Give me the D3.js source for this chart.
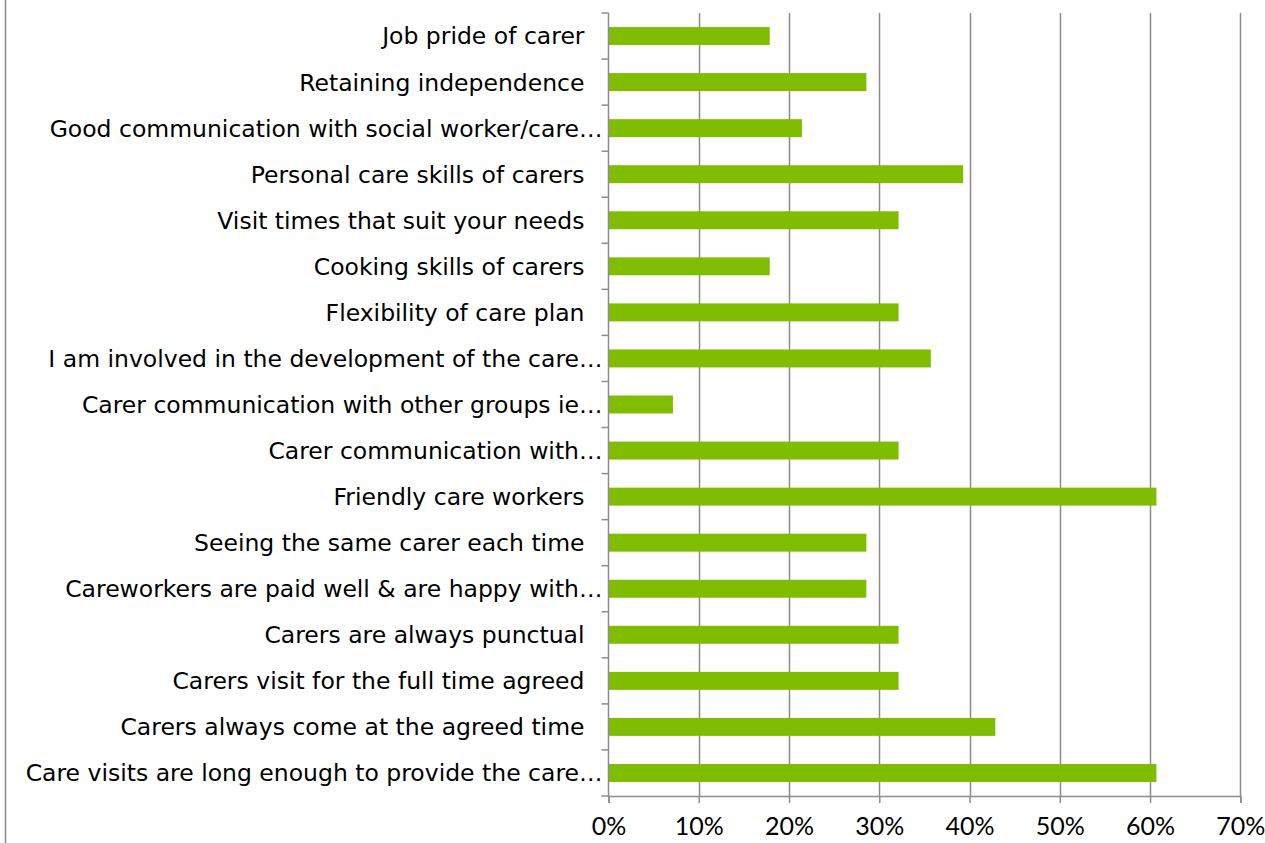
<!DOCTYPE html>
<html>
<head>
<meta charset="utf-8">
<script src="https://cdn.jsdelivr.net/npm/d3@7"></script>
<style>
  html, body { margin: 0; padding: 0; background: #fff; }
  svg { display: block; }
</style>
</head>
<body>
<svg id="chart" width="1265" height="843"></svg>
<script>
// Survey categories, top to bottom
const categories = [
  "Job pride of carer",
  "Retaining independence",
  "Good communication with social worker/care…",
  "Personal care skills of carers",
  "Visit times that suit your needs",
  "Cooking skills of carers",
  "Flexibility of care plan",
  "I am involved in the development of the care…",
  "Carer communication with other groups ie…",
  "Carer communication with…",
  "Friendly care workers",
  "Seeing the same carer each time",
  "Careworkers are paid well & are happy with…",
  "Carers are always punctual",
  "Carers visit for the full time agreed",
  "Carers always come at the agreed time",
  "Care visits are long enough to provide the care…"
];

// Share of respondents (fraction)
const shares = [
  0.1786, 0.2857, 0.2143, 0.3929, 0.3214, 0.1786, 0.3214, 0.3571, 0.0714,
  0.3214, 0.6071, 0.2857, 0.2857, 0.3214, 0.3214, 0.4286, 0.6071
];

const tickValues = [0, 0.1, 0.2, 0.3, 0.4, 0.5, 0.6, 0.7];

const svg = d3.select("#chart");
const plotLeft = 608.5, plotRight = 1240.3, plotTop = 13, plotBottom = 796;

const x = d3.scaleLinear().domain([0, 0.7]).range([plotLeft, plotRight]);
const y = d3.scaleBand().domain(categories).range([plotTop, plotBottom]).paddingInner(0.61).paddingOuter(0.305);
const yOuter = d3.scaleBand().domain(categories).range([plotTop, plotBottom]);

// outer frame edge on the left
svg.append("line")
  .attr("x1", 5.5).attr("x2", 5.5).attr("y1", 0).attr("y2", 843)
  .attr("stroke", "#8c8c8c").attr("stroke-width", 1.5);

// vertical gridlines
svg.append("g")
  .selectAll("line")
  .data(tickValues.slice(1))
  .join("line")
  .attr("x1", d => Math.round(x(d)) + 0.5)
  .attr("x2", d => Math.round(x(d)) + 0.5)
  .attr("y1", plotTop).attr("y2", plotBottom)
  .attr("stroke", "#8c8c8c").attr("stroke-width", 1.5);

// bars
svg.append("g")
  .selectAll("rect")
  .data(categories)
  .join("rect")
  .attr("x", x(0))
  .attr("y", d => y(d))
  .attr("width", (d, i) => x(shares[i]) - x(0))
  .attr("height", y.bandwidth())
  .attr("fill", "#80bc00");

// bottom axis
const xAxis = d3.axisBottom(x)
  .tickValues(tickValues)
  .tickFormat(d3.format(".0%"))
  .tickSize(7)
  .tickPadding(14);
const gx = svg.append("g")
  .attr("transform", `translate(0,${plotBottom})`)
  .call(xAxis);
gx.select(".domain").attr("stroke", "#8c8c8c").attr("stroke-width", 1.5);
gx.selectAll(".tick line").attr("stroke", "#8c8c8c").attr("stroke-width", 1.5);
gx.selectAll(".tick text")
  .attr("fill", "#000")
  .style("font-family", "Lato, 'Open Sans', sans-serif")
  .style("font-size", "25px");

// left category axis: boundary ticks between categories
const gy = svg.append("g");
gy.append("line")
  .attr("x1", plotLeft).attr("x2", plotLeft).attr("y1", plotTop).attr("y2", plotBottom)
  .attr("stroke", "#8c8c8c").attr("stroke-width", 1.5);
gy.selectAll("line.tk")
  .data(categories.concat([null]))
  .join("line")
  .attr("class", "tk")
  .attr("x1", plotLeft - 7).attr("x2", plotLeft)
  .attr("y1", (d, i) => i < categories.length ? yOuter(d) : plotBottom)
  .attr("y2", (d, i) => i < categories.length ? yOuter(d) : plotBottom)
  .attr("stroke", "#8c8c8c").attr("stroke-width", 1.5);

// full labels keep a trailing gap, shortened ones run up to the axis
gy.selectAll("text")
  .data(categories)
  .join("text")
  .attr("x", d => d.endsWith("…") ? plotLeft - 6 : plotLeft - 24)
  .attr("y", d => yOuter(d) + yOuter.bandwidth() / 2)
  .attr("dy", "0.36em")
  .attr("text-anchor", "end")
  .style("font-family", "'DejaVu Sans', sans-serif")
  .style("font-size", "23.5px")
  .attr("fill", "#000")
  .text(d => d);
</script>
</body>
</html>
